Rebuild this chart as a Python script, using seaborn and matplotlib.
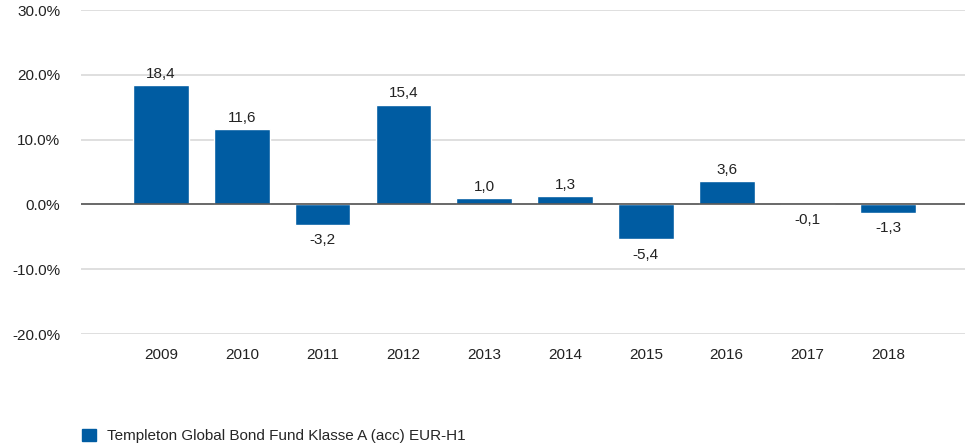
import matplotlib
matplotlib.use("Agg")
import matplotlib.pyplot as plt
import seaborn as sns
import pandas as pd

# Data
years = ['2009', '2010', '2011', '2012', '2013', '2014', '2015', '2016', '2017', '2018']
returns = [18.4, 11.6, -3.2, 15.4, 1.0, 1.3, -5.4, 3.6, -0.1, -1.3]
y_ticks = [-20, -10, 0, 10, 20, 30]
series_name = 'Templeton Global Bond Fund Klasse A (acc) EUR-H1'

sns.set_theme(style="white")
plt.rcParams['font.family'] = ['Liberation Sans', 'DejaVu Sans']

bar_color = '#005CA2'
fs = 11

df = pd.DataFrame({'year': years, 'ret': returns})

fig = plt.figure(figsize=(9.65, 4.43), dpi=100)
ax = fig.add_axes([81 / 965, 1 - 334 / 443, 1 - 81 / 965, (334 - 10) / 443])

sns.barplot(data=df, x='year', y='ret', color=bar_color, saturation=1,
            width=0.69, ax=ax, zorder=3)

ax.set_ylim(-20, 30)
ax.set_xlim(-0.99, 9.95)
ax.set_yticks(y_ticks)
ax.set_yticklabels([f'{v:.1f}%' for v in y_ticks])
ax.yaxis.grid(True, color='#d9d9d9', linewidth=1.2, zorder=0)
ax.axhline(0, color='#555555', linewidth=1.2, zorder=4)
for s in ax.spines.values():
    s.set_visible(False)
ax.tick_params(axis='y', length=0, pad=15, labelsize=fs, colors='#222222')
ax.tick_params(axis='x', length=0, pad=10, labelsize=fs, colors='#222222')
ax.set_xlabel('')
ax.set_ylabel('')

# value labels
for i, v in enumerate(returns):
    txt = f'{v:.1f}'.replace('.', ',')
    if v >= 0:
        ax.annotate(txt, (i, v), xytext=(0, 3), textcoords='offset points',
                    ha='center', va='bottom', fontsize=fs, color='#222222')
    else:
        ax.annotate(txt, (i, v), xytext=(0, -6), textcoords='offset points',
                    ha='center', va='top', fontsize=fs, color='#222222')

# legend
handle = plt.Rectangle((0, 0), 1, 1, color=bar_color)
fig.legend([handle], [series_name], loc='lower left',
           bbox_to_anchor=(68 / 965, -0.032), frameon=False,
           fontsize=fs, handlelength=0.9, handleheight=0.9, handletextpad=0.75)

fig.savefig('out.png', dpi=100)
